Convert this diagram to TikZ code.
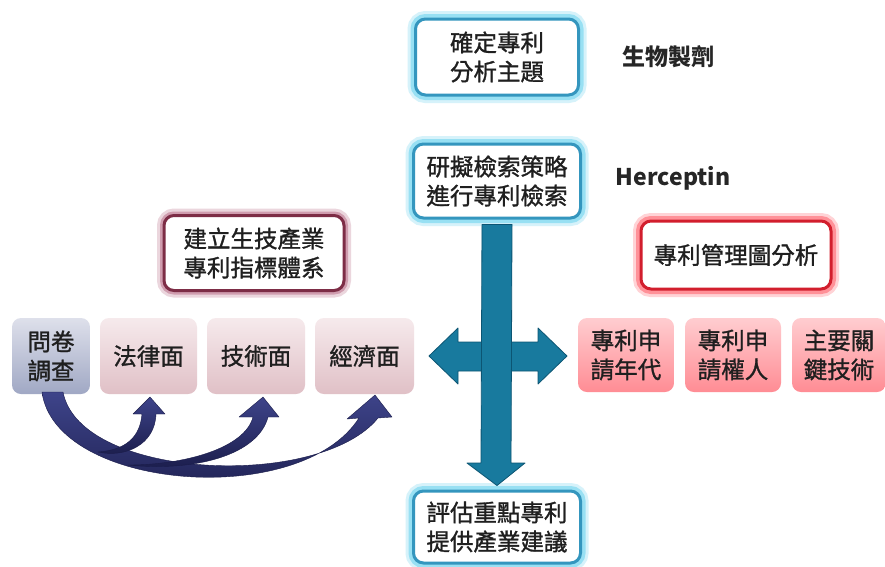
\documentclass[tikz,border=0pt]{standalone}
\usepackage{fontspec}
\newfontfamily\cjk[FakeBold=1.2]{Noto Sans CJK TC}
\newfontfamily\cjkb{Noto Sans CJK TC}
\definecolor{bborder}{RGB}{52,150,190}
\definecolor{bglow}{RGB}{120,215,240}
\definecolor{mborder}{RGB}{125,45,70}
\definecolor{mglow}{RGB}{190,120,145}
\definecolor{rborder}{RGB}{210,30,45}
\definecolor{rglow}{RGB}{255,110,120}
\definecolor{qtop}{RGB}{222,224,235}
\definecolor{qbot}{RGB}{160,168,196}
\definecolor{ptop}{RGB}{246,234,236}
\definecolor{pbot}{RGB}{224,192,198}
\definecolor{rtop}{RGB}{255,205,208}
\definecolor{rbot}{RGB}{255,140,148}
\definecolor{teal}{RGB}{24,122,158}
\definecolor{tealdark}{RGB}{12,85,115}
\definecolor{navyl}{RGB}{62,68,138}
\definecolor{navyd}{RGB}{26,28,74}
\tikzset{
  txt/.style={font=\cjk\fontsize{23.5}{29}\selectfont, align=center, text=black!88},
  framebox/.style={txt, rounded corners=10pt, fill=white, line width=3pt},
  bluebox/.style={framebox, draw=bborder,
    preaction={draw=bglow, line width=16pt, opacity=0.3},
    preaction={draw=bglow, line width=10pt, opacity=0.65}},
  maroonbox/.style={framebox, draw=mborder,
    preaction={draw=mglow, line width=14pt, opacity=0.3},
    preaction={draw=mglow, line width=8pt, opacity=0.6}},
  redbox/.style={framebox, draw=rborder,
    preaction={draw=rglow, line width=16pt, opacity=0.3},
    preaction={draw=rglow, line width=10pt, opacity=0.65}},
  tile/.style={txt, rounded corners=9pt, minimum height=76pt, inner sep=2pt},
  qtile/.style={tile, top color=qtop, bottom color=qbot},
  ptile/.style={tile, top color=ptop, bottom color=pbot},
  rtile/.style={tile, top color=rtop, bottom color=rbot, minimum height=74pt},
  lbl/.style={font=\cjkb\bfseries\fontsize{23}{27}\selectfont, text=black!85},
  bigarrow/.style={fill=teal, draw=tealdark, line width=0.8pt, line join=round},
  curve/.style={top color=navyl, bottom color=navyd, draw=navyd, line width=0.4pt, line join=round}
}
\begin{document}
\begin{tikzpicture}[x=1pt,y=-1pt]
\useasboundingbox[fill=white] (0,0) rectangle (885,566);

% top/central nodes
\node[bluebox, minimum width=163pt, minimum height=76pt] (t1) at (497,57) {確定專利\\分析主題};
\node[bluebox, minimum width=167pt, minimum height=74pt] (t2) at (497,181) {研擬檢索策略\\進行專利檢索};
\node[lbl] (lab1) at (668,57) {生物製劑};
\node[lbl] (lab2) at (673,178) {Herceptin};
\node[maroonbox, minimum width=180pt, minimum height=75pt] (idx) at (254,253) {建立生技產業\\專利指標體系};
\node[redbox, minimum width=190pt, minimum height=68pt] (mgmt) at (736,255) {專利管理圖分析};

% left tiles
\node[qtile, minimum width=78pt] (q) at (51,356) {問卷\\調查};
\node[ptile, minimum width=97pt] (law) at (148.5,356) {法律面};
\node[ptile, minimum width=98pt] (tech) at (256,356) {技術面};
\node[ptile, minimum width=99pt] (econ) at (364.5,356) {經濟面};

% right tiles
\node[rtile, minimum width=96pt] (yr) at (626,355) {專利申\\請年代};
\node[rtile, minimum width=96pt] (app) at (733,355) {專利申\\請權人};
\node[rtile, minimum width=94pt] (key) at (839,355) {主要關\\鍵技術};

% bottom node
\node[bluebox, minimum width=167pt, minimum height=72pt] (eval) at (497,527) {評估重點專利\\提供產業建議};

% cross arrow: horizontal double arrow
\draw[bigarrow] (429,356) -- (458,328) -- (458,342) -- (538,342) -- (538,328) -- (567,356)
  -- (538,384) -- (538,371) -- (458,371) -- (458,384) -- cycle;
% vertical arrow from t2 to eval
\coordinate (vtop) at ([yshift=-5pt]t2.south);
\coordinate (vtip) at ([yshift=4pt]eval.north);
\draw[bigarrow] ([xshift=-15pt]vtop) -- ([xshift=15pt]vtop) -- (511,463) -- (525,463)
  -- (vtip) -- (467,463) -- (481,463) -- cycle;

% curved arrows from q to law / tech / econ
% main band to econ
\draw[curve] (42,392) .. controls (55,490) and (300,510) .. (359,418)
  -- (347,419) -- (375,395) -- (392,417) -- (378,418)
  .. controls (320,490) and (80,480) .. (63,392) -- cycle;
% branch to tech
\draw[curve] (128,465) .. controls (185,465) and (245,448) .. (253,417)
  -- (239,417) -- (263,397) -- (279,417) -- (268,417)
  .. controls (258,455) and (195,472) .. (128,465) -- cycle;
% branch to law
\draw[curve] (98,452) .. controls (125,450) and (140,438) .. (142,414)
  -- (133,414) -- (150,397) -- (165,414) -- (156,414)
  .. controls (155,445) and (125,458) .. (98,452) -- cycle;
\end{tikzpicture}
\end{document}
